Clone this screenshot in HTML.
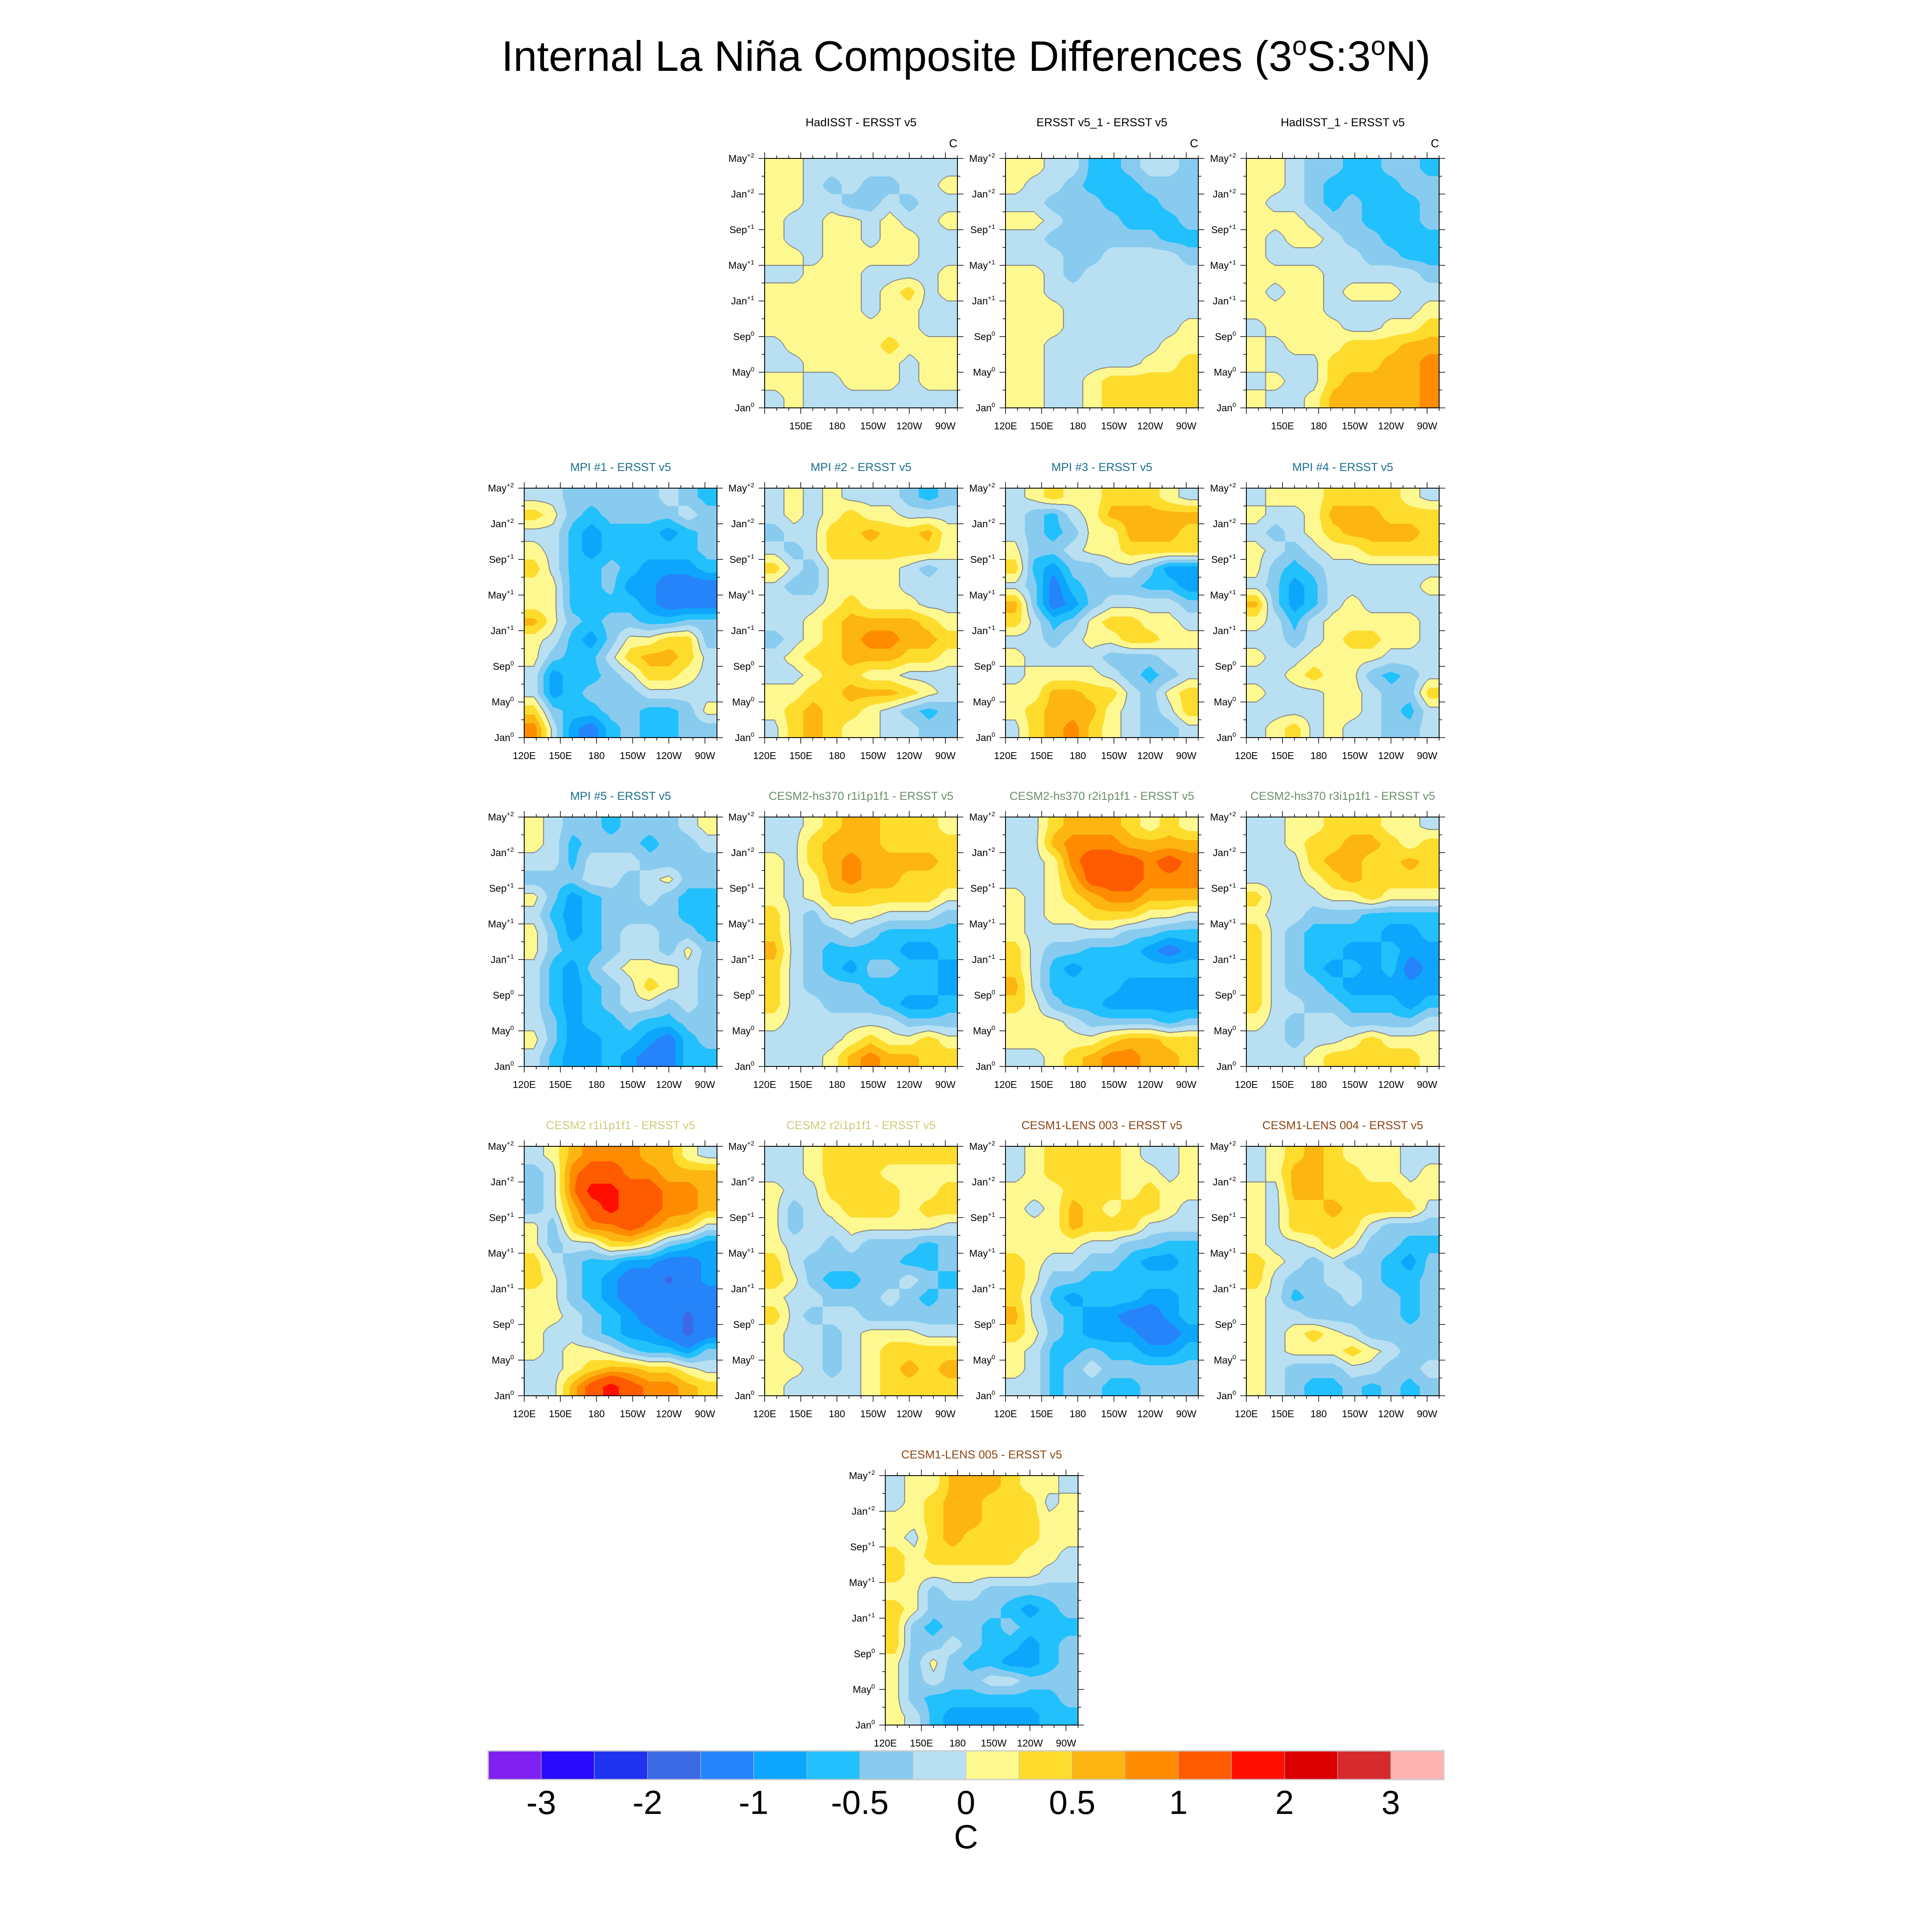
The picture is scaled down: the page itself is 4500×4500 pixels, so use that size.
<!DOCTYPE html>
<html><head><meta charset="utf-8">
<style>
html,body{margin:0;padding:0;background:#fff;}
#root{position:relative;width:4500px;height:4500px;overflow:hidden;background:#fff;}
canvas{position:absolute;}
svg{position:absolute;left:0;top:0;}
</style></head>
<body>
<div id="root">
<svg id="ov" width="4500" height="4500" font-family="Liberation Sans, Arial, sans-serif"></svg>
</div>
<script>
// ---- colour levels ----
const levels = [-3,-2.5,-2,-1.5,-1,-0.75,-0.5,-0.25,0,0.25,0.5,0.75,1,1.5,2,2.5,3];
const colors = ['#7f1ff0','#2a0bfc','#1f33f0','#3b6ae4','#2684fb','#0ea6fd','#22c0fc','#89cbef','#b8e0f2','#fef891','#fedc2e','#fdb512','#fe8b00','#fe5b00','#fe0f00','#dd0000','#d52a2e','#feb3b3'];
const cbLabels = ['-3','-2','-1','-0.5','0','0.5','1','2','3'];
const cbLabelLevelIdx = [0,2,4,6,8,10,12,14,16];
const monthTicks = ['Jan','May','Sep','Jan','May','Sep','Jan','May'];
const monthSup = ['0','0','0','+1','+1','+1','+2','+2'];
const lonTicks = [120,150,180,210,240,270];
const lonLabels = ['120E','150E','180','150W','120W','90W'];

// ---- panel data (rows: May+2 at top -> Jan0 at bottom, cols: 120E -> 80W) ----
const hadisst = [
[.1,.1,-.1,-.1,-.1,-.1,-.1,-.1,-.1,-.1],
[.1,.1,-.1,-.4,-.1,-.4,-.4,-.1,-.1,.1],
[.1,.1,-.1,-.1,-.4,-.4,-.1,-.4,-.1,-.1],
[.1,-.1,-.1,.1,.1,-.1,.1,-.1,-.1,.1],
[.1,-.1,-.1,.1,.1,-.1,.1,.1,-.1,-.1],
[.1,.1,-.1,.1,.1,.1,.1,.1,-.1,-.1],
[-.1,-.1,.1,.1,.1,-.1,-.1,-.1,-.1,.1],
[.1,.1,.1,.1,.1,-.1,.1,.4,-.1,.1],
[.1,.1,.1,.1,.1,-.1,.1,.1,-.1,-.1],
[.1,.1,.1,.1,.1,.1,.1,.1,-.1,-.1],
[-.1,.1,.1,.1,.1,.1,.4,.1,.1,.1],
[-.1,-.1,.1,.1,.1,.1,.1,-.1,.1,.1],
[.1,.1,-.1,-.1,.1,.1,.1,-.1,.1,.1],
[-.1,.1,-.1,-.1,-.1,-.1,-.1,-.1,-.1,-.1]];
const ersst1 = [
[.1,.1,-.1,-.1,-.6,-.6,-.4,-.1,-.1,-.4],
[.1,-.1,-.1,-.4,-.6,-.6,-.6,-.4,-.4,-.4],
[-.1,-.1,-.4,-.4,-.4,-.6,-.6,-.6,-.4,-.4],
[.1,.1,-.1,-.4,-.4,-.4,-.6,-.6,-.6,-.4],
[-.1,-.1,-.4,-.4,-.4,-.4,-.4,-.4,-.6,-.6],
[-.1,-.1,-.1,-.4,-.4,-.1,-.1,-.1,-.1,-.4],
[.1,.1,-.1,-.4,-.1,-.1,-.1,-.1,-.1,-.1],
[.1,.1,-.1,-.1,-.1,-.1,-.1,-.1,-.1,-.1],
[.1,.1,.1,-.1,-.1,-.1,-.1,-.1,-.1,-.1],
[.1,.1,.1,-.1,-.1,-.1,-.1,-.1,-.1,.1],
[.1,.1,-.1,-.1,-.1,-.1,-.1,-.1,.1,.1],
[.1,.1,-.1,-.1,-.1,-.1,-.1,.1,.1,.4],
[.1,.1,-.1,-.1,.1,.4,.4,.4,.4,.4],
[.1,.1,-.1,-.1,.1,.4,.4,.4,.4,.4]];
const hadisst1 = [
[.1,.1,-.1,-.4,-.4,-.6,-.6,-.4,-.4,-.6],
[.1,.1,-.1,-.4,-.6,-.6,-.6,-.6,-.4,-.4],
[.1,-.1,-.1,-.4,-.6,-.4,-.6,-.6,-.6,-.4],
[.1,.1,.1,-.1,-.4,-.4,-.6,-.6,-.6,-.4],
[.1,-.1,.1,.1,-.1,-.4,-.4,-.6,-.6,-.6],
[.1,-.1,-.1,-.1,-.1,-.1,-.4,-.4,-.6,-.6],
[.1,.1,.1,.1,-.1,-.1,-.1,-.1,-.1,-.4],
[.1,-.1,.1,.1,-.1,.1,.1,.1,-.1,-.1],
[.1,.1,.1,.1,-.1,-.1,-.1,-.1,-.1,.1],
[-.1,.1,.1,.1,.1,-.1,-.1,.1,.1,.4],
[.1,-.1,.1,.1,.1,.4,.4,.4,.6,.6],
[.1,-.1,-.1,-.1,.4,.4,.4,.6,.6,.9],
[-.1,.1,-.1,-.1,.4,.6,.6,.6,.6,.9],
[.1,-.1,-.1,.1,.6,.6,.6,.6,.6,.9]];
const mpi1 = [
[-.1,-.1,-.4,-.4,-.4,-.4,-.4,-.1,-.4,-.6],
[.4,.1,-.4,-.6,-.4,-.4,-.4,-.4,-.1,-.4],
[-.1,-.1,-.6,-.9,-.6,-.6,-.6,-.9,-.6,-.4],
[.1,-.1,-.6,-.9,-.6,-.6,-.6,-.6,-.6,-.4],
[.4,-.1,-.6,-.6,-.4,-.6,-.9,-.9,-.9,-.6],
[.1,.1,-.6,-.6,-.4,-.9,-.9,-1.2,-1.2,-1.2],
[.1,.1,-.6,-.6,-.6,-.6,-.9,-1.2,-1.2,-1.2],
[.6,.1,-.4,-.6,-.4,-.4,-.6,-.6,-.4,-.4],
[.1,-.1,-.6,-.9,-.4,.1,.1,.4,.4,-.4],
[.1,-.4,-.6,-.6,-.1,.4,.6,.6,.4,-.1],
[-.1,-.9,-.6,-.6,-.4,-.1,.4,.4,.1,-.1],
[-.1,-.9,-.6,-.4,-.4,-.4,-.1,-.1,-.1,-.1],
[.4,-.4,-.6,-.6,-.4,-.4,-.6,-.6,-.4,.1],
[.9,-.1,-.9,-1.2,-.6,-.4,-.6,-.6,-.4,-.4]];
const mpi2 = [
[-.1,.1,-.1,.1,-.1,-.1,-.1,-.4,-.6,-.4],
[-.1,.1,-.1,.1,.4,.1,.1,-.1,-.1,-.1],
[-.4,-.1,-.1,.4,.4,.6,.4,.4,.6,.1],
[-.1,-.4,-.1,.4,.4,.4,.4,.4,.4,.1],
[.4,-.1,-.4,.1,.1,.1,.1,-.1,-.4,-.1],
[-.1,-.4,-.4,.1,.1,.1,.1,-.1,-.1,-.1],
[-.1,-.1,-.1,.1,.4,.1,.1,.1,-.1,-.1],
[-.1,-.1,.1,.4,.6,.6,.6,.6,.4,.1],
[-.4,-.1,.1,.4,.6,.9,.9,.6,.6,.4],
[-.1,.1,.4,.4,.6,.6,.6,.4,.4,.1],
[-.1,-.1,.1,.4,.4,.1,.1,-.1,-.1,-.1],
[.1,.1,.4,.4,.6,.6,.6,.4,.1,-.1],
[.1,.4,.6,.4,.4,.1,-.1,-.4,-.6,-.4],
[-.1,.4,.6,.4,.1,.1,-.1,-.1,-.4,-.4]];
const mpi3 = [
[-.1,.1,.4,.1,.1,.4,.4,.4,.1,-.1],
[-.1,-.4,-.6,-.1,.1,.6,.6,.6,.6,.6],
[-.1,-.4,-.6,-.4,.1,.1,.6,.6,.6,.4],
[.1,-.4,-.4,-.1,.1,.1,.4,.4,.4,.4],
[.4,-.6,-.9,-.4,-.4,-.1,-.1,-.4,-.9,-.9],
[-.1,-.4,-1.2,-.6,-.4,-.4,-.4,-.6,-.6,-.9],
[.6,-.4,-1.2,-.9,-.4,-.1,-.1,-.1,-.1,-.4],
[.4,-.1,-.6,-.4,.1,.4,.4,.1,.1,-.1],
[-.1,-.1,-.4,-.1,.1,.1,.4,.4,.1,.1],
[.1,-.1,-.1,-.1,-.1,-.4,-.4,-.4,-.1,-.1],
[-.1,.1,.1,.1,.1,-.1,-.4,-.6,-.4,-.1],
[.1,.1,.6,.6,.4,.4,-.1,-.4,.1,.4],
[.1,.4,.6,.6,.6,.1,-.1,-.4,-.1,.4],
[-.1,.4,.6,.9,.4,.1,-.1,-.4,-.4,-.1]];
const mpi4 = [
[-.1,.1,.1,.1,.4,.4,.4,.4,.1,-.1],
[.1,-.1,-.1,.1,.6,.6,.6,.4,.4,.4],
[-.1,-.4,-.1,.1,.4,.6,.6,.6,.6,.4],
[.1,-.1,-.4,-.1,.1,.1,.4,.4,.4,.4],
[.1,-.4,-.6,-.4,-.1,-.1,-.1,-.1,-.1,-.1],
[-.1,-.4,-.9,-.6,-.1,-.1,-.1,-.1,-.1,.1],
[.6,-.4,-.9,-.6,-.1,.1,-.1,-.1,-.1,-.1],
[.1,-.1,-.6,-.1,.1,.1,.1,.1,.1,-.1],
[-.1,-.1,-.4,-.1,.1,.4,.4,.1,.1,-.1],
[.1,-.1,-.1,.1,.1,.1,.1,-.1,-.1,-.1],
[-.1,-.1,.1,.4,.1,.1,-.4,-.6,-.4,-.1],
[.1,-.1,-.1,-.1,.1,.1,-.1,-.4,-.4,.4],
[-.1,-.1,-.1,-.1,.1,.1,-.1,-.4,-.6,-.1],
[-.1,.1,.4,-.1,.1,-.1,-.1,-.4,-.4,-.1]];
const mpi5 = [
[.1,-.1,-.4,-.4,-.6,-.4,-.4,-.4,-.1,.1],
[.1,-.1,-.6,-.4,-.4,-.4,-.6,-.4,-.4,-.1],
[-.1,-.1,-.6,-.1,-.1,-.1,-.4,-.4,-.4,-.4],
[-.4,-.4,-.4,-.1,-.1,-.4,-.1,.1,-.4,-.4],
[.1,-.4,-.9,-.6,-.4,-.4,-.1,-.4,-.6,-.6],
[-.1,-.6,-.9,-.6,-.4,-.4,-.4,-.4,-.6,-.6],
[.1,-.4,-.9,-.6,-.4,-.1,-.1,-.4,-.4,-.6],
[.1,-.4,-.6,-.6,-.4,-.1,-.1,-.4,.1,-.4],
[-.1,-.6,-.9,-.4,-.1,.1,.1,.1,-.1,-.4],
[-.1,-.6,-.9,-.6,-.4,-.1,.4,.1,-.1,-.4],
[-.1,-.6,-.9,-.6,-.4,-.1,-.1,-.4,-.1,-.4],
[-.1,-.4,-.9,-.6,-.6,-.4,-.6,-.6,-.4,-.4],
[.1,-.4,-.9,-.9,-.6,-.6,-.9,-1.2,-.6,-.4],
[-.1,-.6,-.9,-.9,-.6,-.9,-1.2,-1.2,-.6,-.6]];
const hs370r1 = [
[-.1,-.1,.1,.4,.6,.6,.4,.4,.4,.1],
[-.1,-.1,.4,.6,.6,.6,.4,.4,.4,.4],
[.1,-.1,.4,.6,.9,.6,.6,.6,.6,.4],
[.1,-.1,.1,.6,.9,.6,.6,.4,.4,.4],
[.1,-.1,.1,.4,.4,.4,.4,.4,.4,.1],
[.4,-.1,-.4,.1,.1,.1,-.1,-.1,-.1,-.4],
[.4,-.1,-.4,-.4,-.1,-.4,-.6,-.6,-.6,-.6],
[.6,-.1,-.4,-.6,-.6,-.6,-.6,-.9,-.9,-.6],
[.4,-.1,-.4,-.6,-.9,-.4,-.4,-.6,-.6,-.9],
[.4,-.1,-.4,-.4,-.4,-.6,-.6,-.6,-.6,-.9],
[.4,-.1,-.1,-.4,-.4,-.4,-.6,-.9,-.9,-.6],
[.1,-.1,-.1,-.1,-.1,-.1,-.1,-.4,-.4,-.4],
[-.1,-.1,-.1,-.1,.1,.4,.1,.1,.4,.1],
[-.1,-.1,-.1,.1,.6,.9,.6,.6,.4,.4]];
const hs370r2 = [
[-.1,-.1,.4,.6,.6,.6,.4,.1,.4,.1],
[-.1,-.1,.6,.9,.9,.9,.6,.6,.6,.6],
[-.1,-.1,.1,.9,1.2,1.2,1.2,.9,1.2,.9],
[-.1,-.1,.1,.6,1.2,1.2,1.2,.9,.9,.9],
[.1,-.1,.1,.4,.6,.9,.9,.6,.6,.6],
[.1,-.1,.1,.1,.4,.4,.4,.1,.1,-.1],
[.1,-.1,-.1,-.1,-.1,-.1,-.4,-.4,-.6,-.6],
[.4,-.1,-.4,-.4,-.6,-.6,-.6,-.9,-1.2,-.9],
[.4,-.1,-.6,-.9,-.6,-.6,-.6,-.6,-.6,-.6],
[.6,-.1,-.6,-.6,-.6,-.6,-.9,-.9,-.9,-.9],
[.4,.1,-.4,-.6,-.6,-.9,-.9,-.9,-.9,-.9],
[.1,.1,.1,-.1,-.4,-.4,-.4,-.4,-.6,-.4],
[.1,.1,.1,.1,.1,.4,.6,.6,.4,.4],
[-.1,-.1,.1,.4,.6,.9,.9,.6,.6,.4]];
const hs370r3 = [
[-.1,-.1,.1,.1,.4,.4,.4,.1,.1,-.1],
[-.1,-.1,.1,.4,.4,.6,.6,.4,.1,.4],
[-.1,-.1,-.1,.4,.6,.6,.4,.4,.6,.4],
[-.1,-.1,-.1,.1,.4,.6,.4,.4,.4,.4],
[.4,-.1,-.1,-.1,.1,.1,.4,.1,.1,.1],
[.1,-.1,-.1,-.4,-.4,-.4,-.6,-.6,-.6,-.6],
[.4,-.1,-.4,-.6,-.6,-.6,-.6,-.9,-.9,-.6],
[.4,-.1,-.4,-.6,-.6,-.9,-.9,-.6,-.9,-.9],
[.4,-.1,-.4,-.6,-.9,-.6,-.9,-.6,-1.2,-.9],
[.4,-.1,-.4,-.4,-.6,-.9,-.9,-.9,-.9,-.9],
[.4,-.1,-.1,-.4,-.4,-.6,-.6,-.6,-.9,-.6],
[.1,-.1,-.4,-.1,-.1,-.4,-.4,-.4,-.4,-.1],
[-.1,-.1,-.4,-.1,-.1,.1,.4,.1,.1,.1],
[-.1,-.1,-.1,.1,.4,.4,.4,.4,.4,.1]];
const cesm2r1 = [
[-.1,.1,.6,.9,.9,.9,.6,.6,.1,-.1],
[-.4,-.1,.9,1.2,1.2,.9,.9,.6,.6,.6],
[-.4,-.1,.9,1.7,1.7,1.2,1.2,.9,.9,.6],
[-.4,-.1,.6,1.2,1.7,1.2,1.2,.9,.9,.6],
[.1,-.4,.4,.9,.9,1.2,.9,.6,.4,-.1],
[.1,-.4,-.1,-.1,.4,.4,.1,-.4,-.6,-.9],
[.4,-.1,-.4,-.6,-.6,-.9,-.9,-1.2,-1.2,-.9],
[.4,.1,-.4,-.6,-.9,-1.2,-1.2,-1.6,-1.2,-.9],
[.1,.1,-.4,-.6,-.9,-1.2,-1.2,-1.2,-1.2,-1.2],
[.1,.1,-.1,-.4,-.6,-.9,-1.2,-1.2,-1.6,-1.2],
[.1,-.1,-.1,-.4,-.6,-.9,-.9,-1.2,-1.6,-1.2],
[.1,-.1,.1,.1,-.1,-.4,-.6,-.6,-.9,-.4],
[-.1,-.1,.1,.4,.6,.6,.4,.4,.1,-.1],
[-.1,-.1,.6,1.2,1.7,1.2,.9,.9,.6,.4]];
const cesm2r2 = [
[-.1,-.1,.1,.4,.4,.4,.4,.4,.4,.4],
[-.1,-.1,.1,.4,.4,.4,.1,.1,.1,.1],
[.1,-.1,-.1,.4,.4,.4,.4,.1,.1,.4],
[.1,-.4,-.1,.1,.4,.4,.4,.1,.4,.4],
[.1,-.4,-.1,-.1,.1,.1,.1,.1,.1,-.1],
[.1,-.1,-.1,-.4,-.1,-.4,-.4,-.4,-.6,-.4],
[.4,-.1,-.4,-.4,-.4,-.4,-.4,-.6,-.6,-.4],
[.4,.1,-.4,-.6,-.6,-.4,-.4,-.1,-.4,-.6],
[.1,-.1,-.1,-.4,-.4,-.4,-.1,-.4,-.6,-.4],
[.4,-.1,-.4,-.1,-.1,-.4,-.4,-.4,-.4,-.4],
[.1,-.1,-.1,-.4,-.1,.1,.1,.1,-.1,-.1],
[.1,-.1,-.1,-.4,-.1,.1,.4,.4,.4,.4],
[.1,.1,-.1,-.4,-.1,.1,.4,.6,.4,.6],
[.1,-.1,-.1,-.1,-.1,.1,.4,.4,.4,.4]];
const lens003 = [
[-.1,.1,.4,.4,.4,.4,.1,-.1,-.1,.1],
[-.1,.1,.4,.4,.4,.4,.1,.1,-.1,.1],
[.1,.1,.1,.4,.4,.4,.1,.4,.1,.1],
[.1,-.1,.1,.6,.4,.1,.4,.4,.1,-.1],
[.1,.1,.1,.6,.4,.4,.4,-.1,-.1,-.1],
[.1,.1,.1,.1,-.1,-.1,-.4,-.4,-.6,-.6],
[.4,.1,-.1,-.1,-.4,-.4,-.6,-.9,-.9,-.6],
[.4,.1,-.4,-.4,-.6,-.6,-.6,-.6,-.6,-.6],
[.4,-.1,-.6,-.9,-.6,-.6,-.6,-.9,-.9,-.6],
[.6,-.1,-.4,-.6,-.9,-.9,-1.2,-1.2,-.9,-.6],
[.4,.1,-.4,-.6,-.9,-.9,-.9,-1.2,-1.2,-.9],
[.1,-.1,-.6,-.6,-.4,-.6,-.6,-.9,-.9,-.6],
[.1,-.1,-.6,-.4,-.1,-.4,-.4,-.4,-.4,-.4],
[-.1,-.1,-.6,-.4,-.4,-.6,-.6,-.4,-.4,-.4]];
const lens004 = [
[-.1,.1,.4,.6,.4,.1,.1,.1,-.1,-.1],
[-.1,.1,.6,.6,.4,.4,.1,.1,-.1,.1],
[.1,-.1,.6,.6,.4,.4,.4,.4,.1,.1],
[.1,-.1,.4,.4,.6,.4,.4,.4,.4,-.1],
[.1,-.1,.4,.4,.4,.4,-.1,-.4,-.4,-.4],
[.1,-.1,-.1,.1,.4,.1,-.4,-.4,-.6,-.6],
[.4,.1,-.1,-.4,-.1,-.4,-.4,-.6,-.9,-.4],
[.4,-.1,-.4,-.4,-.1,-.1,-.4,-.6,-.6,-.4],
[.1,-.1,-.6,-.4,-.4,-.1,-.4,-.4,-.6,-.4],
[.1,-.1,-.1,-.4,-.4,-.4,-.4,-.4,-.6,-.4],
[.1,-.1,.1,.4,.1,-.1,-.4,-.4,-.4,-.4],
[.1,-.1,.1,.1,.1,.4,.1,-.1,-.4,-.4],
[.1,-.1,-.4,-.4,-.4,-.1,-.1,-.4,-.4,-.1],
[.1,-.1,-.4,-.6,-.6,-.4,-.6,-.4,-.6,-.4]];
const lens005 = [
[-.1,.1,.1,.6,.6,.6,.4,.1,.1,-.1],
[-.1,.1,.4,.6,.6,.4,.4,.4,-.1,.1],
[.1,.1,.4,.6,.6,.4,.4,.4,.1,.1],
[.1,-.1,.4,.6,.4,.4,.4,.4,.1,.1],
[.4,.1,.4,.4,.4,.4,.4,.1,.1,-.1],
[.4,.1,.1,.1,.1,.1,.1,.1,-.1,-.1],
[.1,.1,-.4,-.1,-.1,-.4,-.4,-.4,-.4,-.4],
[.4,.1,-.4,-.4,-.4,-.4,-.6,-.9,-.6,-.4],
[.4,-.4,-.6,-.4,-.4,-.6,-.4,-.6,-.6,-.6],
[.4,-.4,-.4,-.1,-.4,-.6,-.6,-.9,-.6,-.4],
[.1,-.4,.1,-.4,-.6,-.6,-.9,-.9,-.6,-.4],
[.1,-.4,-.1,-.4,-.4,-.1,-.1,-.4,-.4,-.4],
[.1,-.4,-.6,-.6,-.6,-.6,-.6,-.6,-.6,-.4],
[.1,-.1,-.6,-.9,-.9,-.9,-.9,-.9,-.6,-.6]];

const panels = [
 {name:'hadisst-minus-ersst',title:'HadISST - ERSST v5',tc:'#000',x:1781,y:369,d:hadisst,c:true,skip120:true},
 {name:'ersst-v5-1-minus-ersst',title:'ERSST v5_1 - ERSST v5',tc:'#000',x:2342,y:369,d:ersst1,c:true},
 {name:'hadisst-1-minus-ersst',title:'HadISST_1 - ERSST v5',tc:'#000',x:2903,y:369,d:hadisst1,c:true,skip120:true},
 {name:'mpi-1-minus-ersst',title:'MPI #1 - ERSST v5',tc:'#1a6f8f',x:1221,y:1137,d:mpi1},
 {name:'mpi-2-minus-ersst',title:'MPI #2 - ERSST v5',tc:'#1a6f8f',x:1781,y:1137,d:mpi2},
 {name:'mpi-3-minus-ersst',title:'MPI #3 - ERSST v5',tc:'#1a6f8f',x:2342,y:1137,d:mpi3},
 {name:'mpi-4-minus-ersst',title:'MPI #4 - ERSST v5',tc:'#1a6f8f',x:2903,y:1137,d:mpi4},
 {name:'mpi-5-minus-ersst',title:'MPI #5 - ERSST v5',tc:'#1a6f8f',x:1221,y:1903,d:mpi5},
 {name:'cesm2-hs370-r1-minus-ersst',title:'CESM2-hs370 r1i1p1f1 - ERSST v5',tc:'#6a8f6a',x:1781,y:1903,d:hs370r1},
 {name:'cesm2-hs370-r2-minus-ersst',title:'CESM2-hs370 r2i1p1f1 - ERSST v5',tc:'#6a8f6a',x:2342,y:1903,d:hs370r2},
 {name:'cesm2-hs370-r3-minus-ersst',title:'CESM2-hs370 r3i1p1f1 - ERSST v5',tc:'#6a8f6a',x:2903,y:1903,d:hs370r3},
 {name:'cesm2-r1-minus-ersst',title:'CESM2 r1i1p1f1 - ERSST v5',tc:'#cfc97a',x:1221,y:2670,d:cesm2r1},
 {name:'cesm2-r2-minus-ersst',title:'CESM2 r2i1p1f1 - ERSST v5',tc:'#cfc97a',x:1781,y:2670,d:cesm2r2},
 {name:'cesm1-lens-003-minus-ersst',title:'CESM1-LENS 003 - ERSST v5',tc:'#8b4513',x:2342,y:2670,d:lens003},
 {name:'cesm1-lens-004-minus-ersst',title:'CESM1-LENS 004 - ERSST v5',tc:'#8b4513',x:2903,y:2670,d:lens004},
 {name:'cesm1-lens-005-minus-ersst',title:'CESM1-LENS 005 - ERSST v5',tc:'#8b4513',x:2062,y:3437,d:lens005}
];
const PW=449, PH=581;
const root=document.getElementById('root');
const ov=document.getElementById('ov');
const NS='http://www.w3.org/2000/svg';
function el(tag,attrs,parent){const e=document.createElementNS(NS,tag);for(const k in attrs)e.setAttribute(k,attrs[k]);(parent||ov).appendChild(e);return e;}
function hex(c){return [parseInt(c.slice(1,3),16),parseInt(c.slice(3,5),16),parseInt(c.slice(5,7),16)];}
const rgb=colors.map(hex);
function cls(v){let i=0;while(i<levels.length&&v>=levels[i])i++;return i;}
function lonX(lon){return (lon-120)/160*PW;}
function monY(m){return PH-(m/28)*PH;}

panels.forEach(p=>{
  const cv=document.createElement('canvas');
  cv.width=PW;cv.height=PH;cv.style.left=p.x+'px';cv.style.top=p.y+'px';
  
  
  root.insertBefore(cv,ov);
  const ctx=cv.getContext('2d');const img=ctx.createImageData(PW,PH);
  const d=p.d,R=d.length,C=d[0].length;
  const cl=new Uint8Array(PW*PH);
  for(let py=0;py<PH;py++){
    let fy=(py+0.5)/PH*R-0.5;fy=Math.max(0,Math.min(R-1,fy));const y0=Math.floor(fy),y1=Math.min(R-1,y0+1),ty=fy-y0;
    for(let px=0;px<PW;px++){
      let fx=(px+0.5)/PW*C-0.5;fx=Math.max(0,Math.min(C-1,fx));const x0=Math.floor(fx),x1=Math.min(C-1,x0+1),tx=fx-x0;
      const v=(d[y0][x0]*(1-tx)+d[y0][x1]*tx)*(1-ty)+(d[y1][x0]*(1-tx)+d[y1][x1]*tx)*ty;
      cl[py*PW+px]=cls(v);
    }
  }
  for(let i=0;i<PW*PH;i++){
    let c=rgb[cl[i]];const px=i%PW,py=(i-px)/PW;
    const pos=cl[i]>8;
    if((px+1<PW&&(cl[i+1]>8)!==pos)||(py+1<PH&&(cl[i+PW]>8)!==pos)||(px>0&&(cl[i-1]>8)!==pos)||(py>0&&(cl[i-PW]>8)!==pos)) c=[125,125,125];
    img.data[i*4]=c[0];img.data[i*4+1]=c[1];img.data[i*4+2]=c[2];img.data[i*4+3]=255;
  }
  ctx.putImageData(img,0,0);

  const g=el('g',{transform:`translate(${p.x},${p.y})`});
  
  
  el('rect',{x:0,y:0,width:PW,height:PH,fill:'none',stroke:'#000','stroke-width':2},g);
  for(let m=0;m<=28;m+=2){
    const y=monY(m),len=(m%4===0)?14:7;
    el('line',{x1:-len,y1:y,x2:0,y2:y,stroke:'#000','stroke-width':1.5},g);
    el('line',{x1:PW,y1:y,x2:PW+len,y2:y,stroke:'#000','stroke-width':1.5},g);
  }
  monthTicks.forEach((mn,i)=>{
    const y=monY(i*4);
    const t=el('text',{x:-24,y:y+8,'text-anchor':'end','font-size':23,fill:'#000'},g);
    
    
    t.appendChild(document.createTextNode(mn));
    const s=el('tspan',{dy:-10,'font-size':15},t);s.textContent=monthSup[i];
  });
  for(let lon=120;lon<=280;lon+=10){
    const x=lonX(lon),len=(lon%30===0)?14:7;
    el('line',{x1:x,y1:-len,x2:x,y2:0,stroke:'#000','stroke-width':1.5},g);
    el('line',{x1:x,y1:PH,x2:x,y2:PH+len,stroke:'#000','stroke-width':1.5},g);
  }
  lonTicks.forEach((lon,i)=>{
    if(p.skip120&&i===0)return;
    const t=el('text',{x:lonX(lon),y:PH+50,'text-anchor':'middle','font-size':23,fill:'#000'},g);
    
    
    t.textContent=lonLabels[i];
  });
  const tt=el('text',{x:PW/2,y:p.c?-75:-40,'text-anchor':'middle','font-size':27,fill:p.tc},g);
  
  
  tt.textContent=p.title;
  if(p.c){
    const ct=el('text',{x:PW,y:-26,'text-anchor':'end','font-size':27,fill:'#000'},g);
    
    
    ct.textContent='C';
  }
});

const mt=el('text',{x:2250,y:165,'text-anchor':'middle','font-size':99,fill:'#000'});


mt.appendChild(document.createTextNode('Internal La Niña Composite Differences (3'));
let s1=el('tspan',{dy:-37,'font-size':62},mt);s1.textContent='o';
let s2=el('tspan',{dy:37},mt);s2.textContent='S:3';
let s3=el('tspan',{dy:-37,'font-size':62},mt);s3.textContent='o';
let s4=el('tspan',{dy:37},mt);s4.textContent='N)';

const cbX=1137,cbY=4078,cbW=2226,cbH=67,bw=cbW/colors.length;
const cb=el('g',{});


colors.forEach((c,i)=>{
  const r=el('rect',{x:cbX+i*bw,y:cbY,width:bw,height:cbH,fill:c,stroke:'#bbb','stroke-width':1},cb);
  
  
});
el('rect',{x:cbX,y:cbY,width:cbW,height:cbH,fill:'none',stroke:'#ccc','stroke-width':3},cb);
cbLabels.forEach((lab,i)=>{
  const x=cbX+(cbLabelLevelIdx[i]+1)*bw;
  const t=el('text',{x:x,y:4225,'text-anchor':'middle','font-size':78,fill:'#000'},cb);
  
  
  t.textContent=lab;
});
const cu=el('text',{x:cbX+9*bw,y:4305,'text-anchor':'middle','font-size':78,fill:'#000'},cb);


cu.textContent='C';
</script>
</body></html>
